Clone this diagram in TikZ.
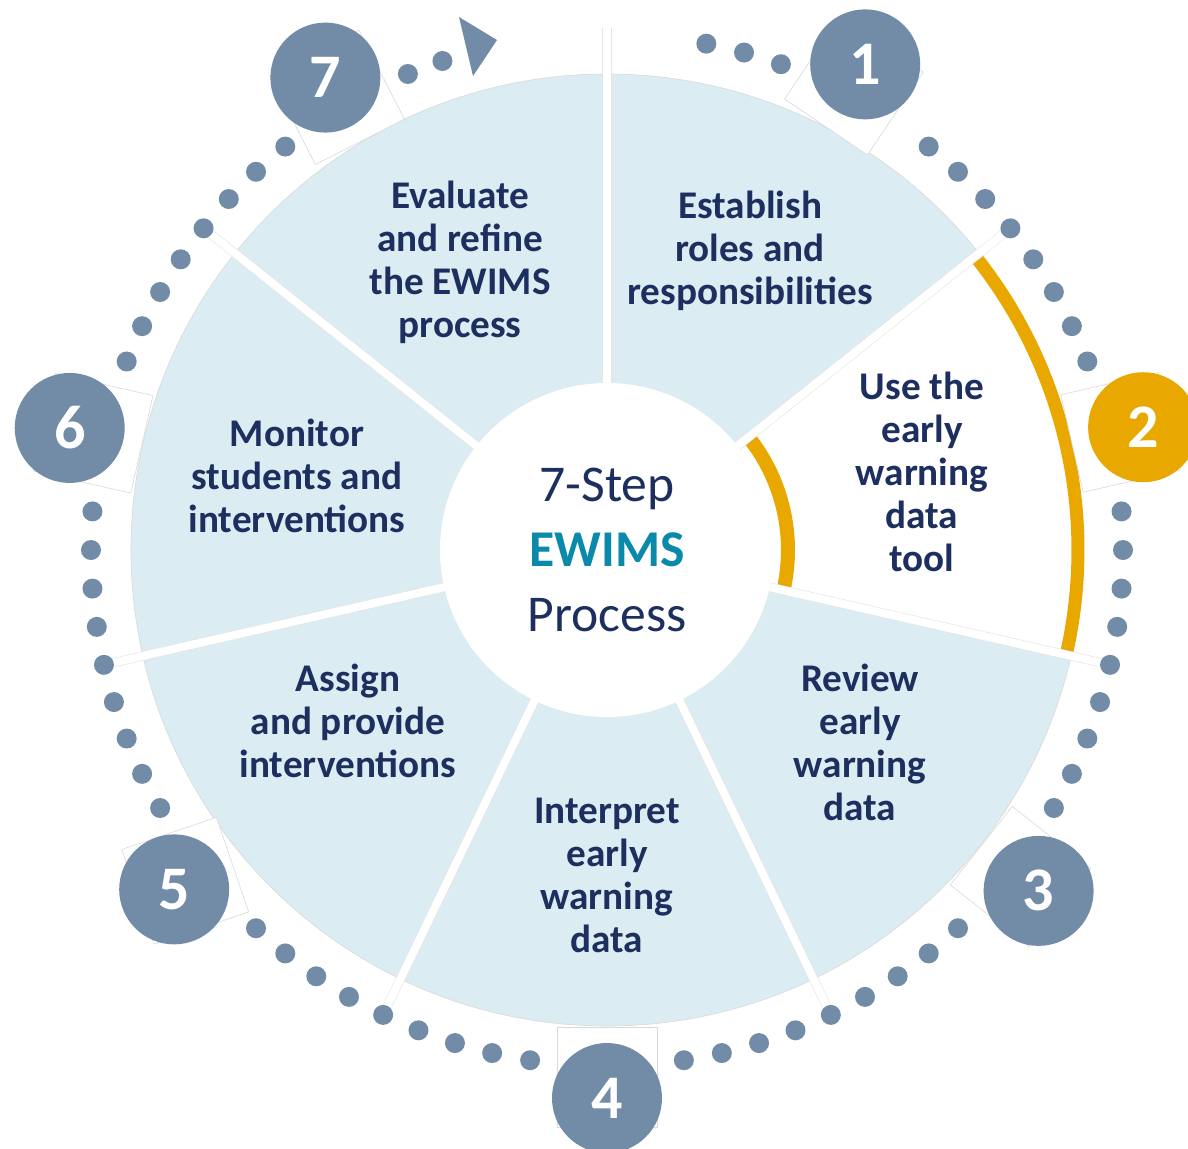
\documentclass[tikz,border=0pt]{standalone}
\usepackage{fontspec}
\setmainfont{Carlito}
\usepackage{tikz}
\definecolor{pie}{HTML}{DBECF2}
\definecolor{stepc}{HTML}{728CA8}
\definecolor{gold}{HTML}{E8A800}
\definecolor{navy}{HTML}{1C2F5E}
\definecolor{ewims}{HTML}{0A89AB}

\begin{document}
\begin{tikzpicture}[x=0.5pt,y=0.5pt,
	steptext/.style={text=navy,font=\bfseries\fontsize{19.6}{21.5}\selectfont,align=center},
	stepnum/.style={circle,fill=stepc,minimum size=55pt,inner sep=0pt,text=white,font=\bfseries\fontsize{31}{31}\selectfont},
	ghost/.style={draw=black!15,line width=0.3pt,fill=white,minimum size=50pt,inner sep=0pt},
	sep/.style={draw=black!10,line width=0.3pt,double=white,double distance=4pt}]
						\useasboundingbox (-607,-598) rectangle (581,550);
						\fill[pie,draw=black!15,line width=0.3pt] (0,0) circle (476);
						\fill[white] (0,0) -- (-12.857:476) arc (-12.857:38.571:476) -- cycle;
						\draw[gold,line width=6.5pt] (-12.857:471) arc (-12.857:38.571:471);
						\draw[gold,line width=7pt] (-12.857:181) arc (-12.857:38.571:181);
						\draw[sep] (0,0) -- (90:522);
						\foreach \a in {141.43,192.86,244.29,295.71,347.14,38.57}
							\draw[sep] (0,0) -- (\a:516);
						\node[circle,fill=white,minimum size=167pt,inner sep=0pt,align=center,text=navy,font=\fontsize{25.8}{32.5}\selectfont] (hub) at (0,0) {7-Step\\{\bfseries\color{ewims}EWIMS}\\Process};
						\foreach \a/\r/\d in {62/56/526,12.9/12.9/527,-38.3/-38.3/527,-90/-90/527,-141.9/18.8/536,167.2/167.2/527,120.8/27/527}
							\node[ghost,rotate=\r] at (\a:\d) {};
						\foreach \a in {128.57,132.86,137.14,141.43,145.71,150,154.29,158.57,
							175.71,180,184.29,188.57,192.86,197.14,201.43,205.71,210,
							227.14,231.43,235.71,240,244.29,248.57,252.86,257.14,261.43,
							278.57,282.86,287.14,291.43,295.71,300,304.29,308.57,312.86,
							330,334.29,338.57,342.86,347.14,351.43,355.71,0,4.29,
							21.43,25.71,30,34.29,38.57,42.86,47.14,51.43,
							70.3,74.6,78.9,108.6,112.7}
							\fill[stepc] (\a:516) circle (10);
						\fill[stepc] (-148,533) -- (-110,510) -- (-134,474) -- cycle;
						\node[stepnum] (n1) at (62:550) {1};
						\node[stepnum,fill=gold] (n2) at (12.9:550) {2};
						\node[stepnum] (n3) at (-38.3:550) {3};
						\node[stepnum] (n4) at (-90:548) {4};
						\node[stepnum] (n5) at (-141.9:550) {5};
						\node[stepnum] (n6) at (167.2:551) {6};
						\node[stepnum] (n7) at (120.8:550) {7};
						\node[steptext] (t1) at (143,299) {Establish\\roles and\\responsibilities};
						\node[steptext] (t2) at (315,78) {Use the\\early\\warning\\data\\tool};
						\node[steptext] (t3) at (253,-192) {Review\\early\\warning\\data};
						\node[steptext] (t4) at (0,-325) {Interpret\\early\\warning\\data};
						\node[steptext] (t5) at (-259,-171) {Assign\\and provide\\interventions};
						\node[steptext] (t6) at (-310,74) {Monitor\\students and\\interventions};
						\node[steptext] (t7) at (-147,288) {Evaluate\\and refine\\the EWIMS\\process};
					\end{tikzpicture}
\end{document}
